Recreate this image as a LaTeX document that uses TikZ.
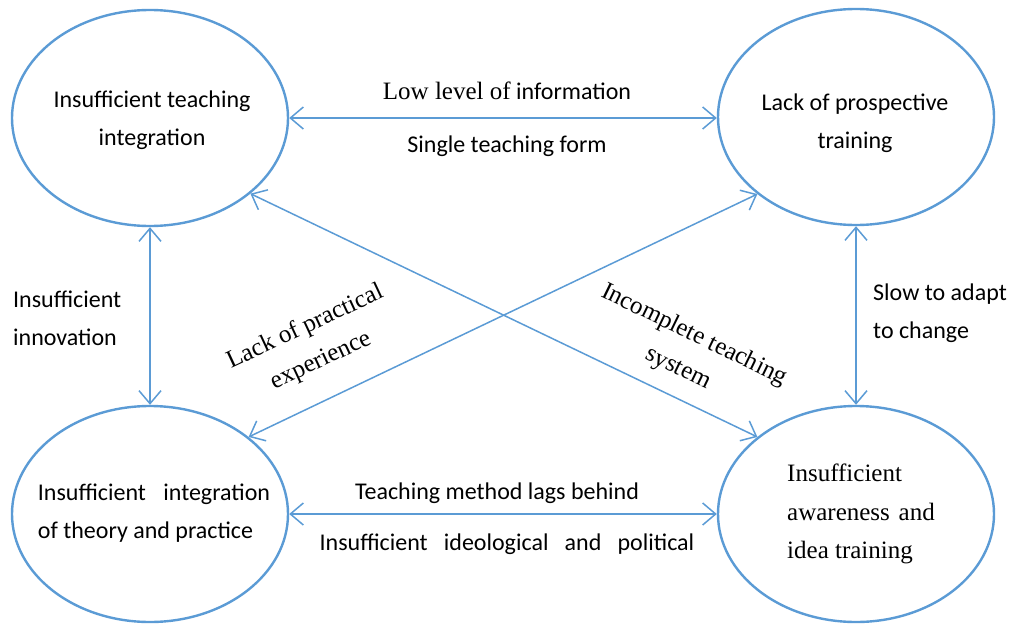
\documentclass[tikz,border=0pt]{standalone}
\usepackage{fontspec}
\setmainfont{Carlito}
\newfontfamily\seriffont{Liberation Serif}
\usetikzlibrary{arrows.meta,shapes.geometric}
\definecolor{lineblue}{HTML}{5B9BD5}
\tikzset{
  ell/.style={draw=lineblue, line width=2.4pt, ellipse, minimum width=276pt, minimum height=216pt, inner sep=0pt},
  txt/.style={align=center, inner sep=0pt, font=\fontsize{24}{38}\selectfont},
  stxt/.style={align=center, inner sep=0pt, font=\seriffont\fontsize{25}{37}\selectfont},
  conn/.style={draw=lineblue, line width=1.5pt,
    {Straight Barb[length=13pt,width=22pt,line width=1.5pt]}-{Straight Barb[length=13pt,width=22pt,line width=1.5pt]}}
}
\begin{document}
\begin{tikzpicture}[x=1pt,y=-1pt]
\useasboundingbox (0,0) rectangle (1014,624);
% ellipses
\node[ell] (tl) at (150,118) {};
\node[ell] (tr) at (856,117) {};
\node[ell] (bl) at (150,514) {};
\node[ell] (br) at (856,514) {};
% ellipse texts
\node[txt] (tlt) at (152,120) {Insufficient teaching\\integration};
\node[txt] (trt) at (855,123) {Lack of prospective\\training};
\node[txt, align=left] (blt) at (154,513) {Insufficient\hspace{0.5em} integration\\of theory and practice};
\node[stxt, align=left, anchor=west, font=\seriffont\fontsize{25}{38.5}\selectfont] (brt) at (787,514) {Insufficient\\awareness\hspace{0.1em} and\\idea training};
% connectors
\draw[conn] (tl.east) -- (tr.west |- tl.east);
\draw[conn] (bl.east) -- (br.west |- bl.east);
\draw[conn] (tl.south) -- (bl.north);
\draw[conn] (tr.south) -- (br.north);
\draw[conn] (tl.-37.5) -- (br.142.5);
\draw[conn] (tr.-142) -- (bl.38);
% labels
\node[txt] (l1) at (507,91) {{\seriffont\fontsize{25}{38}\selectfont Low level of} information};
\node[txt] (l2) at (507,146) {Single teaching form};
\node[txt, align=left, anchor=west] (l3) at (13,318) {Insufficient\\innovation};
\node[txt, align=left, anchor=west] (l4) at (873,313) {Slow to adapt\\to change};
\node[txt] (l5) at (497,493) {Teaching method lags behind};
\node[txt] (l6) at (507,544) {Insufficient\hspace{0.45em} ideological\hspace{0.45em} and\hspace{0.45em} political};
\node[stxt, rotate=25] (l7) at (313,344) {Lack of practical\\experience};
\node[stxt, rotate=-26] (l8) at (686,352) {Incomplete teaching\\system};
\end{tikzpicture}
\end{document}
